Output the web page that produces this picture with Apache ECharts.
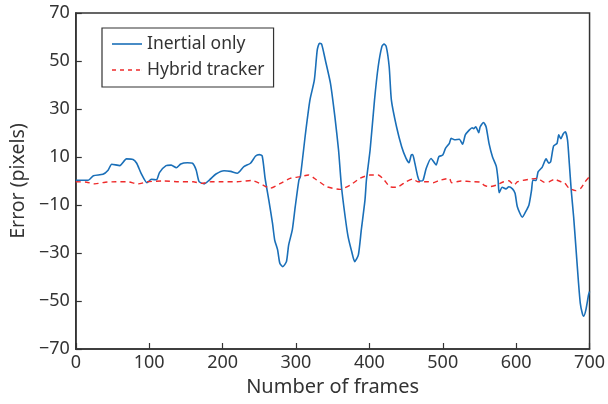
<!DOCTYPE html>
<html>
<head>
<meta charset="utf-8">
<script src="https://cdn.jsdelivr.net/npm/echarts@6/dist/echarts.min.js"></script>
<style>html,body{margin:0;padding:0;background:#fff}#c{width:608px;height:404px}</style>
</head>
<body>
<div id="c"></div>
<script>
const seriesNames = ['Inertial only', 'Hybrid tracker'];
const yTicks = [-70, -50, -30, -10, 10, 30, 50, 70];
const inertial = [
[0,0.3],[17,0.3],[24,2.2],[37,2.8],[44,4.5],[49,7],[60,6.4],[69,9.2],[78,9],[83,7.4],[89,3.2],[97,-0.7],[103,0.7],[110,0.5],[114,3.5],[123,6.4],[130,6.6],[137,5.5],[143,7.1],[152,7.6],[159,7.4],[164,4.6],[168,-0.3],[175,-1.2],[182,0.4],[191,2.9],[202,4.3],[211,4],[220,3.2],[229,6],[238,7.4],[245,10.4],[250,11],[254,10.4],[258,1],[263,-8],[268,-17.6],[271,-24.6],[275,-28.7],[278,-34.3],[282,-35.7],[287,-33.6],[290,-26.7],[295,-20.4],[299,-10.7],[304,0.4],[306,1.8],[313,19.9],[319,33.7],[325,42],[329,54.6],[332,57.4],[335,57],[340,50.4],[347,40.7],[353,26.8],[358,12.9],[362,-2.4],[367,-14.9],[371,-23.2],[376,-29.5],[380,-33.6],[385,-30.8],[389,-20.4],[394,-8],[396,0.4],[401,12.9],[407,33.7],[412,47.6],[417,56],[420,57.1],[423,56],[427,47.6],[430,33.7],[437,22.6],[444,14.3],[450,9.4],[454,7.6],[457,10.8],[459,11],[462,7.4],[466,1.8],[469,0],[473,0.2],[477.5,5.3],[484,9.4],[491,6.7],[494.6,10.1],[500,10.8],[503.7,13.6],[509,15.7],[511.4,17.8],[516,17.2],[522.6,17.4],[527,15.3],[530.7,19.2],[536,21.2],[540,22.2],[542,21.8],[545,22.6],[549,20.1],[551,22.6],[555.5,24.4],[559,22.6],[563,15.7],[567.7,10.1],[573,6],[575.4,0.4],[576.8,-4.9],[581,-2.6],[586,-3.3],[590,-2.4],[595,-3.3],[598.5,-5.1],[601.6,-10.7],[608.4,-15.1],[613,-12.8],[617.4,-10],[621,-3.75],[622.8,0.4],[627,0.2],[630,3.9],[635.4,5.7],[640.8,9.2],[644.5,7.4],[647,8],[651,14.6],[655.7,15.7],[658,19.2],[661,17.6],[664,19.6],[667,20.5],[670,17],[672.4,7.4],[675,-3.75],[678.3,-14.9],[681,-26],[685,-42.6],[687.4,-51],[690,-55],[692,-56.3],[695,-53.7],[698.6,-47.5],[700,-46]
];
const hybrid = [
[0,-0.3],[15,-0.5],[26,-1.2],[40,-0.5],[55,-0.3],[70,-0.3],[85,-1.2],[98,-0.3],[120,0],[140,-0.3],[160,-0.3],[171,-1],[185,-0.3],[200,-0.3],[220,-0.3],[240,0.2],[252,-1.2],[265,-3],[279,-1],[292,1.1],[306,1.8],[317,2.5],[328,0.5],[342,-2.4],[360,-3.5],[374,-1.7],[387,1.1],[401,2.5],[412,2.5],[420,0.5],[428,-2.4],[437,-2.6],[450,-0.3],[459,0.8],[466,-0.3],[480,-0.3],[487,-0.7],[495,0.2],[509,1.1],[512,-0.7],[525,0],[540,-0.3],[552,-0.5],[556,-1.7],[563,-2.4],[573,-1.7],[583,-0.3],[590,0.1],[597,-1.7],[602,-0.3],[617,0.7],[629,1.1],[638,-0.5],[645,-0.3],[652,0.7],[661,-0.3],[666,-0.8],[672,-3],[681,-4],[688,-3],[694,-0.3],[699,1.5]
];
const xMin = 0, xMax = 700, xStep = 100;

const font = 'Noto Sans';
const axisCol = '#333';
const blue = '#1a6fb8', red = '#ee2b2b';
const solidIcon = 'path://M0,0h30v1.6h-30z';
const dashIcon = 'path://M0,0h4v1.5h-4z M8,0h4v1.5h-4z M16,0h4v1.5h-4z M24,0h4v1.5h-4z M29.9,0h0.1v1.5h-0.1z';
const chart = echarts.init(document.getElementById('c'), null, {renderer: 'canvas'});
chart.setOption({
  animation: false,
  backgroundColor: '#fff',
  textStyle: {fontFamily: font},
  grid: {left: 74, right: 17, top: 13, bottom: 55, show: true, borderColor: axisCol, borderWidth: 1.5, backgroundColor: 'transparent'},
  legend: {
    left: 102, top: 28, orient: 'vertical',
    borderColor: '#333', borderWidth: 1.2, padding: [7, 9, 8, 10],
    itemWidth: 30, itemHeight: 12, itemGap: 8, symbolKeepAspect: true,
    textStyle: {fontFamily: font, fontSize: 17.5, color: '#333'},
    data: [
      {name: seriesNames[0], icon: solidIcon, itemStyle: {color: blue}},
      {name: seriesNames[1], icon: dashIcon, itemStyle: {color: red}}
    ]
  },
  xAxis: {
    type: 'value', min: xMin, max: xMax, interval: xStep,
    name: 'Number of frames', nameLocation: 'middle', nameGap: 28,
    nameTextStyle: {fontFamily: font, fontSize: 20, color: '#333'},
    axisLine: {show: true, onZero: false, lineStyle: {color: axisCol, width: 1.5}},
    axisTick: {show: true, inside: true, length: 6, lineStyle: {color: axisCol, width: 1.2}},
    axisLabel: {fontFamily: font, fontSize: 18, color: '#333', margin: 5},
    splitLine: {show: false}
  },
  yAxis: {
    type: 'value', min: -70, max: 70,
    name: 'Error (pixels)', nameLocation: 'middle', nameGap: 46,
    nameTextStyle: {fontFamily: font, fontSize: 19.5, color: '#333'},
    axisLine: {show: true, onZero: false, lineStyle: {color: axisCol, width: 1.5}},
    axisTick: {show: true, inside: true, length: 6, customValues: yTicks, lineStyle: {color: axisCol, width: 1.2}},
    axisLabel: {fontFamily: font, fontSize: 18, color: '#333', margin: 6, customValues: yTicks,
      formatter: v => String(v).replace('-', '\u2212')},
    splitLine: {show: false}
  },
  series: [
    {name: seriesNames[0], type: 'line', data: inertial, symbol: 'none', smooth: 0.2,
     lineStyle: {color: blue, width: 1.6}, itemStyle: {color: blue}, z: 2},
    {name: seriesNames[1], type: 'line', data: hybrid, symbol: 'none', smooth: 0.2,
     lineStyle: {color: red, width: 1.4, type: [5, 4]}, itemStyle: {color: red}, z: 3}
  ]
});
</script>
</body>
</html>
